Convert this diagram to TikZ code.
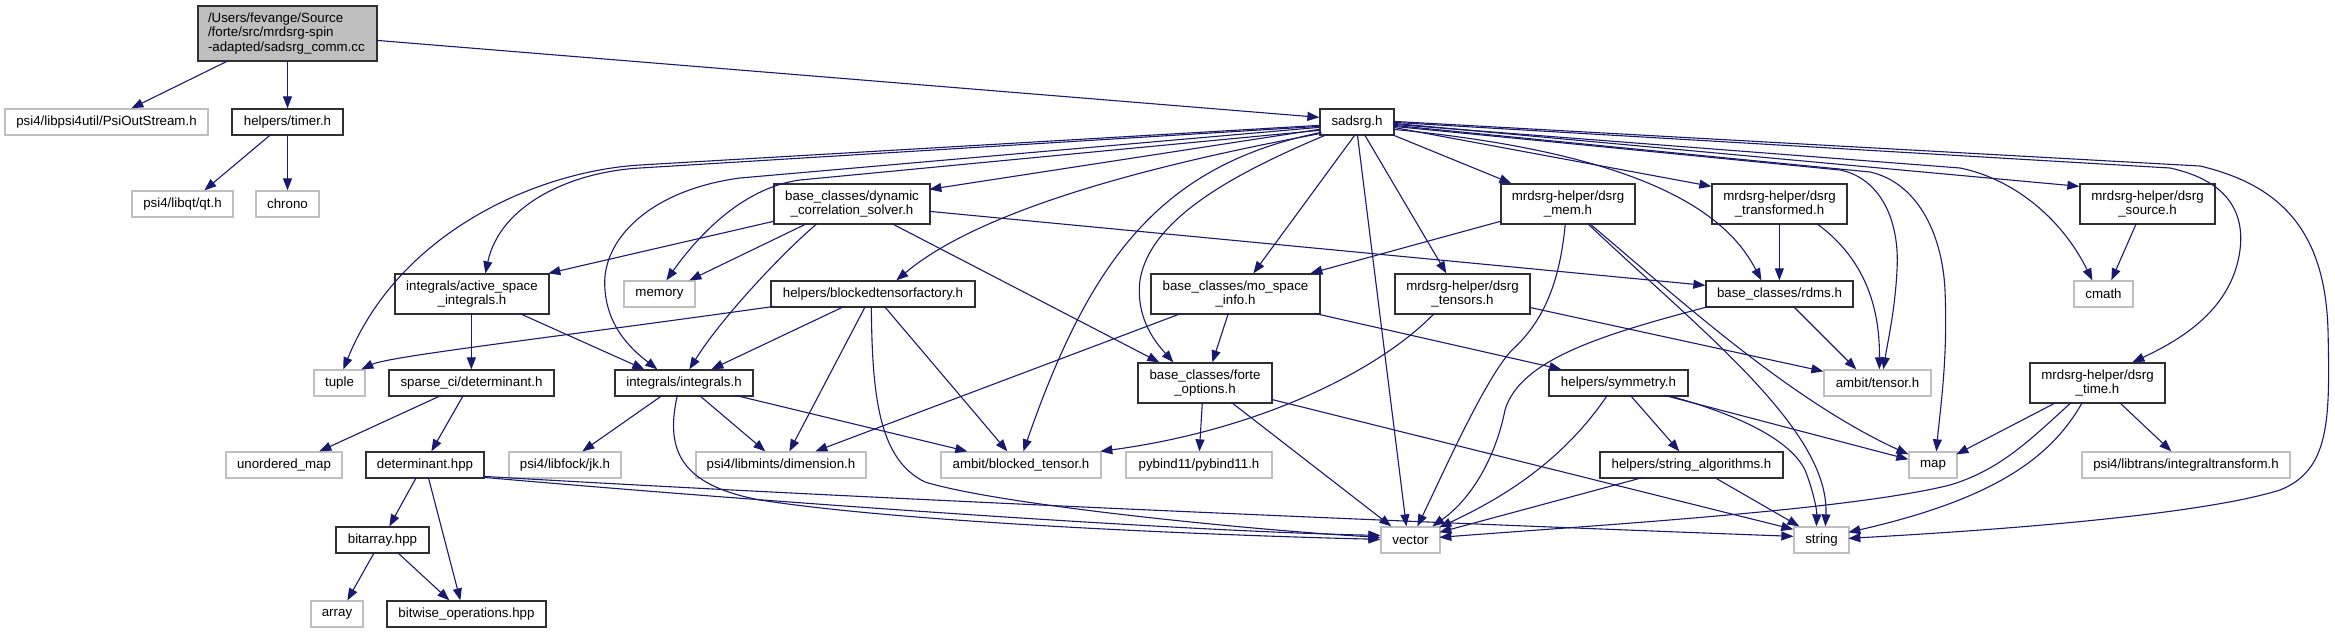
\documentclass[tikz,border=0pt]{standalone}
\usepackage{fontspec}
\setmainfont{Liberation Sans}
\usetikzlibrary{arrows.meta,calc}
\definecolor{edgec}{HTML}{191970}
\definecolor{extc}{HTML}{BFBFBF}
\definecolor{boxc}{HTML}{303030}
\definecolor{mainfill}{HTML}{BFBFBF}
\newcommand{\dgfont}{\fontsize{13.3}{14.5}\selectfont}
\begin{document}
\begin{tikzpicture}[x=1pt,y=-1pt,
  bx/.style={draw=boxc, line width=1.3pt, fill=white, inner sep=0pt, align=center, font=\dgfont, minimum height=26pt},
  gx/.style={bx, draw=extc},
  tw/.style={minimum height=40pt},
  mainbox/.style={draw=boxc, line width=1.3pt, fill=mainfill, inner xsep=10pt, inner ysep=0pt, text width=159pt, align=left, font=\dgfont, minimum height=55pt},
  e/.style={draw=edgec, line width=1.1pt, -{Triangle[length=12pt,width=9pt]}}]
\useasboundingbox (0,0) rectangle (2335,633);

% ---------- nodes ----------
\node[mainbox] (main) at (287.5,33.5) {/Users/fevange/Source\\/forte/src/mrdsrg-spin\\-adapted/sadsrg\_comm.cc};
\node[gx,minimum width=203pt] (psiout) at (106.5,122) {psi4/libpsi4util/PsiOutStream.h};
\node[bx,minimum width=111pt] (timer) at (287.5,122) {helpers/timer.h};
\node[gx,minimum width=101pt] (qt) at (182.5,204) {psi4/libqt/qt.h};
\node[gx,minimum width=63pt] (chrono) at (287.5,204) {chrono};
\node[bx,minimum width=74pt] (sadsrg) at (1357,122) {sadsrg.h};

\node[bx,tw,minimum width=156pt] (dyn) at (852,204) {base\_classes/dynamic\\\_correlation\_solver.h};
\node[bx,tw,minimum width=134pt] (dsrgmem) at (1568,204) {mrdsrg-helper/dsrg\\\_mem.h};
\node[bx,tw,minimum width=135pt] (dsrgtrans) at (1779.5,204) {mrdsrg-helper/dsrg\\\_transformed.h};
\node[bx,tw,minimum width=135pt] (dsrgsrc) at (2147.5,204) {mrdsrg-helper/dsrg\\\_source.h};

\node[gx,minimum width=71pt] (memory) at (659.5,294) {memory};
\node[bx,minimum width=204pt] (btf) at (873,294) {helpers/blockedtensorfactory.h};
\node[bx,minimum width=147pt] (rdms) at (1779.5,294) {base\_classes/rdms.h};
\node[gx,minimum width=59pt] (cmath) at (2103.5,294) {cmath};
\node[bx,tw,minimum width=154pt] (asi) at (472,294) {integrals/active\_space\\\_integrals.h};
\node[bx,tw,minimum width=169pt] (mosi) at (1235.5,294) {base\_classes/mo\_space\\\_info.h};
\node[bx,tw,minimum width=135pt] (tensors) at (1462.5,294) {mrdsrg-helper/dsrg\\\_tensors.h};

\node[gx,minimum width=51pt] (tuple) at (339.5,383) {tuple};
\node[bx,minimum width=165pt] (sparse) at (471.5,383) {sparse\_ci/determinant.h};
\node[bx,minimum width=138pt] (integrals) at (684,383) {integrals/integrals.h};
\node[bx,minimum width=139pt] (symmetry) at (1618.5,383) {helpers/symmetry.h};
\node[gx,minimum width=107pt] (ambittensor) at (1877.5,383) {ambit/tensor.h};
\node[bx,tw,minimum width=134pt] (forte) at (1205,383) {base\_classes/forte\\\_options.h};
\node[bx,tw,minimum width=135pt] (dsrgtime) at (2097.5,383) {mrdsrg-helper/dsrg\\\_time.h};

\node[gx,minimum width=116pt] (umap) at (284,465) {unordered\_map};
\node[bx,minimum width=118pt] (dethpp) at (425,465) {determinant.hpp};
\node[gx,minimum width=112pt] (jk) at (565,465) {psi4/libfock/jk.h};
\node[gx,minimum width=170pt] (dimension) at (781,465) {psi4/libmints/dimension.h};
\node[gx,minimum width=160pt] (blockedtensor) at (1021,465) {ambit/blocked\_tensor.h};
\node[gx,minimum width=146pt] (pybind) at (1199,465) {pybind11/pybind11.h};
\node[bx,minimum width=183pt] (stralg) at (1691.5,465) {helpers/string\_algorithms.h};
\node[gx,minimum width=48pt] (map) at (1933,465) {map};
\node[gx,minimum width=208pt] (inttrans) at (2186,465) {psi4/libtrans/integraltransform.h};

\node[bx,minimum width=93pt] (bitarray) at (382.5,540) {bitarray.hpp};
\node[gx,minimum width=59pt] (vector) at (1410.5,540) {vector};
\node[gx,minimum width=55pt] (string) at (1821.5,540) {string};
\node[gx,minimum width=52pt] (array) at (337,614) {array};
\node[bx,minimum width=159pt] (bitwise) at (466.5,614) {bitwise\_operations.hpp};

% ---------- edges ----------
% main
\draw[e] ($(main.north west)+(31.6,55)$) -- ($(psiout.north west)+(127,0)$);
\draw[e] (main.south) -- (timer.north);
\draw[e] ($(main.north west)+(179,35)$) -- ($(sadsrg.north west)+(0,9)$);
% timer
\draw[e] ($(timer.north west)+(39.7,26)$) -- ($(qt.north west)+(73,0)$);
\draw[e] (timer.south) -- (chrono.north);

% sadsrg
\draw[e] ($(sadsrg.north west)+(0,17)$) -- (640,165) .. controls (540,171) and (400,230) .. ($(tuple.north west)+(30,0)$);
\draw[e] ($(sadsrg.north west)+(0,18)$) -- (640,168) .. controls (570,172) and (500,205) .. ($(asi.north west)+(91,0)$);
\draw[e] ($(sadsrg.north west)+(0,19)$) -- (740,178) .. controls (650,190) and (600,240) .. (605,290) .. controls (608,330) and (635,352) .. ($(integrals.north west)+(43,0)$);
\draw[e] ($(sadsrg.north west)+(0,22)$) -- (800,180) .. controls (740,188) and (695,240) .. ($(memory.north west)+(43,0)$);
\draw[e] ($(sadsrg.north west)+(0,21)$) -- ($(dyn.north west)+(156,6)$);
\draw[e] ($(sadsrg.north west)+(2,25)$) .. controls (1150,165) and (980,210) .. ($(btf.north west)+(126,0)$);
\draw[e] ($(sadsrg.north west)+(36,26)$) -- ($(mosi.north west)+(103,0)$);
\draw[e] ($(sadsrg.north west)+(8,26)$) .. controls (1230,175) and (1150,220) .. (1140,280) .. controls (1135,320) and (1158,345) .. ($(forte.north west)+(36,0)$);
\draw[e] ($(sadsrg.north west)+(2,24)$) .. controls (1160,165) and (1090,260) .. ($(blockedtensor.north west)+(83,0)$);
\draw[e] ($(sadsrg.north west)+(38,26)$) -- ($(vector.north west)+(26,0)$);
\draw[e] ($(sadsrg.north west)+(45,26)$) -- ($(tensors.north west)+(52,0)$);
\draw[e] ($(sadsrg.north west)+(72,26)$) -- ($(dsrgmem.north west)+(11,0)$);
\draw[e] ($(sadsrg.north west)+(74,19)$) -- ($(dsrgtrans.north west)+(0,3)$);
\draw[e] ($(sadsrg.north west)+(74,15)$) -- ($(dsrgsrc.north west)+(0,3)$);
\draw[e] ($(sadsrg.north west)+(74,21)$) .. controls (1660,155) and (1730,220) .. ($(rdms.north west)+(56,0)$);
\draw[e] ($(sadsrg.north west)+(74,18)$) -- (1840,170) .. controls (1880,178) and (1900,220) .. (1897,270) .. controls (1895,310) and (1888,340) .. ($(ambittensor.north west)+(60,0)$);
\draw[e] ($(sadsrg.north west)+(74,17)$) -- (1870,172) .. controls (1915,182) and (1942,230) .. (1945,290) .. controls (1948,360) and (1940,410) .. ($(map.north west)+(28,0)$);
\draw[e] ($(sadsrg.north west)+(74,16)$) -- (1960,168) .. controls (2010,178) and (2060,215) .. ($(cmath.north west)+(19,0)$);
\draw[e] ($(sadsrg.north west)+(74,14)$) -- (2170,168) .. controls (2225,180) and (2245,210) .. (2240,250) .. controls (2232,310) and (2180,340) .. ($(dsrgtime.north west)+(103,0)$);
\draw[e] ($(sadsrg.north west)+(74,13)$) -- (2200,166) .. controls (2280,185) and (2325,230) .. (2328,330) .. controls (2330,420) and (2330,470) .. (2280,490) .. controls (2200,515) and (2000,530) .. ($(string.north west)+(55,12)$);

% dsrg_transformed / source
\draw[e] ($(dsrgtrans.north west)+(68,40)$) -- ($(rdms.north west)+(74,0)$);
\draw[e] ($(dsrgtrans.north west)+(105,40)$) .. controls (1860,255) and (1880,300) .. ($(ambittensor.north west)+(56,0)$);
\draw[e] ($(rdms.north west)+(88,26)$) -- ($(ambittensor.north west)+(33,0)$);
\draw[e] ($(dsrgsrc.north west)+(57,40)$) -- ($(cmath.north west)+(38,0)$);

% dynamic_correlation_solver
\draw[e] ($(dyn.north west)+(0,38)$) -- ($(asi.north west)+(154,0)$);
\draw[e] ($(dyn.north west)+(34,40)$) -- ($(memory.north west)+(66,0)$);
\draw[e] ($(dyn.north west)+(44,40)$) .. controls (780,255) and (720,320) .. ($(integrals.north west)+(75,0)$);
\draw[e] ($(dyn.north west)+(118,40)$) -- ($(forte.north west)+(22,0)$);
\draw[e] ($(dyn.north west)+(156,28)$) -- ($(rdms.north west)+(0,5)$);

% blockedtensorfactory
\draw[e] ($(btf.north west)+(4,26)$) .. controls (550,338) and (390,356) .. ($(tuple.north west)+(48,0)$);
\draw[e] ($(btf.north west)+(74,26)$) -- ($(integrals.north west)+(97,0)$);
\draw[e] ($(btf.north west)+(95,26)$) -- ($(dimension.north west)+(94,0)$);
\draw[e] ($(btf.north west)+(114,26)$) -- ($(blockedtensor.north west)+(67,0)$);
\draw[e] ($(btf.north west)+(101,26)$) .. controls (872,400) and (880,460) .. (925,482) .. controls (1000,505) and (1250,530) .. ($(vector.north west)+(0,11)$);

% integrals
\draw[e] ($(integrals.north west)+(48,26)$) -- ($(jk.north west)+(74,0)$);
\draw[e] ($(integrals.north west)+(85,26)$) -- ($(dimension.north west)+(70,0)$);
\draw[e] ($(integrals.north west)+(121,26)$) -- ($(blockedtensor.north west)+(27,0)$);
\draw[e] ($(integrals.north west)+(63,26)$) .. controls (665,450) and (680,485) .. (760,500) .. controls (900,522) and (1200,535) .. ($(vector.north west)+(0,13)$);

% active space integrals
\draw[e] ($(asi.north west)+(77,40)$) -- ($(sparse.north west)+(83,0)$);
\draw[e] ($(asi.north west)+(125,40)$) -- ($(integrals.north west)+(30,0)$);

% sparse_ci determinant
\draw[e] ($(sparse.north west)+(53,26)$) -- ($(umap.north west)+(94,0)$);
\draw[e] ($(sparse.north west)+(75,26)$) -- ($(dethpp.north west)+(66,0)$);

% determinant.hpp
\draw[e] ($(dethpp.north west)+(51,26)$) -- ($(bitarray.north west)+(54,0)$);
\draw[e] ($(dethpp.north west)+(63,26)$) -- ($(bitwise.north west)+(74,0)$);
\draw[e] ($(dethpp.north west)+(118,26)$) .. controls (800,505) and (1200,532) .. ($(vector.north west)+(0,9)$);
\draw[e] ($(dethpp.north west)+(118,25)$) .. controls (800,495) and (1300,518) .. ($(string.north west)+(0,10)$);

% bitarray
\draw[e] ($(bitarray.north west)+(39,26)$) -- ($(array.north west)+(37,0)$);
\draw[e] ($(bitarray.north west)+(62,26)$) -- ($(bitwise.north west)+(63,0)$);

% mo_space_info
\draw[e] ($(mosi.north west)+(78,40)$) -- ($(forte.north west)+(75,0)$);
\draw[e] ($(mosi.north west)+(31,40)$) -- ($(dimension.north west)+(120,0)$);
\draw[e] ($(mosi.north west)+(164,40)$) -- ($(symmetry.north west)+(13,0)$);

% forte_options
\draw[e] ($(forte.north west)+(65,40)$) -- ($(pybind.north west)+(74,0)$);
\draw[e] ($(forte.north west)+(94,40)$) -- ($(vector.north west)+(11,0)$);
\draw[e] ($(forte.north west)+(134,37)$) -- ($(string.north west)+(0,3)$);

% dsrg_tensors
\draw[e] ($(tensors.north west)+(40,40)$) .. controls (1380,370) and (1260,430) .. ($(blockedtensor.north west)+(160,0)$);
\draw[e] ($(tensors.north west)+(135,34)$) -- ($(ambittensor.north west)+(0,2)$);

% dsrg_mem
\draw[e] ($(dsrgmem.north west)+(0,38)$) -- ($(mosi.north west)+(160,0)$);
\draw[e] ($(dsrgmem.north west)+(65,40)$) .. controls (1560,280) and (1545,320) .. (1512,350) .. controls (1485,378) and (1440,480) .. ($(vector.north west)+(37,0)$);
\draw[e] ($(dsrgmem.north west)+(89,40)$) .. controls (1680,300) and (1790,400) .. ($(map.north west)+(0,3)$);
\draw[e] ($(dsrgmem.north west)+(87,40)$) .. controls (1700,330) and (1830,430) .. ($(string.north west)+(32,0)$);

% rdms
\draw[e] ($(rdms.north west)+(4,26)$) .. controls (1600,335) and (1520,360) .. (1505,410) .. controls (1495,460) and (1470,500) .. ($(vector.north west)+(52,0)$);

% symmetry
\draw[e] ($(symmetry.north west)+(82,26)$) -- ($(stralg.north west)+(80,0)$);
\draw[e] ($(symmetry.north west)+(59,26)$) .. controls (1570,450) and (1520,490) .. ($(vector.north west)+(59,1)$);
\draw[e] ($(symmetry.north west)+(116,26)$) -- ($(map.north west)+(0,8)$);
\draw[e] ($(symmetry.north west)+(119,26)$) .. controls (1740,415) and (1790,440) .. (1805,470) .. controls (1813,490) and (1817,510) .. ($(string.north west)+(23,0)$);

% string_algorithms
\draw[e] ($(stralg.north west)+(44,26)$) -- ($(vector.north west)+(59,6)$);
\draw[e] ($(stralg.north west)+(115,26)$) -- ($(string.north west)+(6,0)$);

% dsrg_time
\draw[e] ($(dsrgtime.north west)+(27,40)$) -- ($(map.north west)+(48,3)$);
\draw[e] ($(dsrgtime.north west)+(42,40)$) .. controls (2030,440) and (2000,470) .. (1950,485) .. controls (1850,510) and (1600,525) .. ($(vector.north west)+(59,11)$);
\draw[e] ($(dsrgtime.north west)+(53,40)$) .. controls (2050,460) and (1990,500) .. ($(string.north west)+(55,6)$);
\draw[e] ($(dsrgtime.north west)+(90,40)$) -- ($(inttrans.north west)+(90,0)$);
\end{tikzpicture}
\end{document}
